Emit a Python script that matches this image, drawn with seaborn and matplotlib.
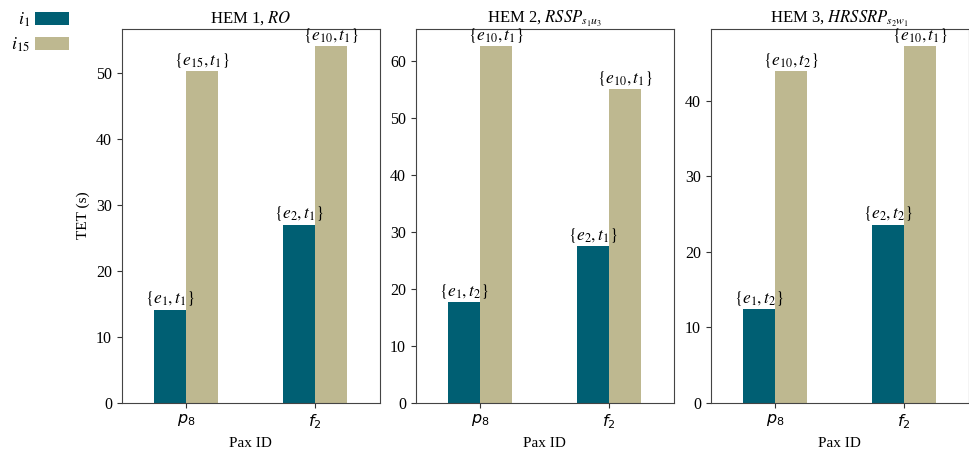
import matplotlib
matplotlib.use("Agg")
import matplotlib.pyplot as plt
import seaborn as sns
import pandas as pd
from matplotlib.patches import Patch

# ---- data ----
pax_ids = ["p8", "f2"]
pax_tick_labels = [r"$p_8$", r"$f_2$"]
groups = ["i1", "i15"]
group_labels = [r"$i_1$", r"$i_{15}$"]
titles = [r"HEM 1, $RO$", r"HEM 2, $RSSP_{s_1u_3}$", r"HEM 3, $HRSSRP_{s_2w_1}$"]

hem1_i1 = [14.1, 27.0]
hem1_i15 = [50.2, 54.0]
hem2_i1 = [17.6, 27.5]
hem2_i15 = [62.5, 55.0]
hem3_i1 = [12.4, 23.6]
hem3_i15 = [43.9, 47.2]

hem1_lbl_i1 = [r"$\{e_1, t_1\}$", r"$\{e_2, t_1\}$"]
hem1_lbl_i15 = [r"$\{e_{15}, t_1\}$", r"$\{e_{10}, t_1\}$"]
hem2_lbl_i1 = [r"$\{e_1, t_2\}$", r"$\{e_2, t_1\}$"]
hem2_lbl_i15 = [r"$\{e_{10}, t_1\}$", r"$\{e_{10}, t_1\}$"]
hem3_lbl_i1 = [r"$\{e_1, t_2\}$", r"$\{e_2, t_2\}$"]
hem3_lbl_i15 = [r"$\{e_{10}, t_2\}$", r"$\{e_{10}, t_1\}$"]

colors = ["#005F73", "#BEB890"]

plt.rcParams["font.family"] = ["Liberation Serif", "DejaVu Serif"]
plt.rcParams["mathtext.fontset"] = "stix"
plt.rcParams["font.size"] = 11

fig = plt.figure(figsize=(9.69, 4.5), dpi=100)

panels = [
    (hem1_i1, hem1_i15, hem1_lbl_i1, hem1_lbl_i15),
    (hem2_i1, hem2_i15, hem2_lbl_i1, hem2_lbl_i15),
    (hem3_i1, hem3_i15, hem3_lbl_i1, hem3_lbl_i15),
]
lefts = [121.7 / 969, 415.7 / 969, 710.7 / 969]
width = 258 / 969
bottom = (450 - 402.7) / 450
height = (402.7 - 28.5) / 450

for k, (v1, v15, l1, l15) in enumerate(panels):
    ax = fig.add_axes([lefts[k], bottom, width, height])
    df = pd.DataFrame({
        "pax": pax_ids * 2,
        "group": [groups[0]] * 2 + [groups[1]] * 2,
        "tet": list(v1) + list(v15),
    })
    sns.barplot(data=df, x="pax", y="tet", hue="group", order=pax_ids,
                hue_order=groups, palette=colors, width=0.5, ax=ax,
                legend=False, saturation=1, errorbar=None)
    for cont, labs in zip(ax.containers, [l1, l15]):
        ax.bar_label(cont, labels=labs, padding=1, fontsize=12.5)
    ax.set_xlim(-0.5, 1.5)
    ax.set_xticks(range(len(pax_ids)))
    ax.set_xticklabels(pax_tick_labels, fontsize=12)
    for t in ax.get_xticklabels():
        t.set_math_fontfamily("dejavusans")
    ax.set_xlabel("Pax ID", fontsize=11)
    ax.set_ylabel("TET (s)" if k == 0 else "", fontsize=11)
    ax.set_title(titles[k], fontsize=12, pad=4)
    ax.tick_params(axis="both", labelsize=11.5, colors="#333333", labelcolor="black")
    for s in ax.spines.values():
        s.set_color("#444444")

handles = [Patch(facecolor=c, edgecolor="none") for c in colors]
fig.legend(handles, group_labels, loc="upper left", bbox_to_anchor=(0.0, 1.0),
           frameon=False, markerfirst=False, handlelength=1.9, handleheight=0.75,
           fontsize=13, borderaxespad=0.2, labelspacing=0.35, handletextpad=0.3)

fig.savefig("out.png", dpi=100)
